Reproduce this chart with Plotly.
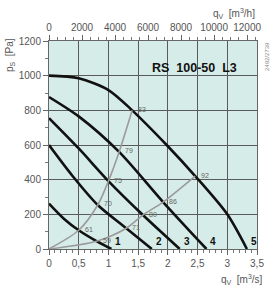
import plotly.graph_objects as go

# ---- data ----
q_tick_vals = [0, 0.5, 1, 1.5, 2, 2.5, 3, 3.5]
q_tick_text = ["0", "0,5", "1", "1,5", "2", "2,5", "3", "3,5"]
qh_tick_vals = [0, 2000, 4000, 6000, 8000, 10000, 12000]
qh_tick_text = ["0", "2000", "4000", "6000", "8000", "10000", "12000"]
p_tick_vals = [0, 200, 400, 600, 800, 1000, 1200]

curve_names = ["1", "2", "3", "4", "5"]
curve_q = [
    [0, 0.25, 0.5, 0.8, 1.05],
    [0, 0.4, 0.82, 1.3, 1.73],
    [0, 0.5, 1.0, 1.58, 2.2],
    [0, 0.5, 1.18, 1.92, 2.65],
    [0, 0.5, 1.0, 1.4, 1.98, 2.46, 3.0, 3.33],
]
curve_p = [
    [262, 175, 108, 45, 0],
    [600, 420, 254, 120, 0],
    [755, 580, 392, 196, 0],
    [877, 765, 560, 271, 0],
    [1000, 985, 917, 800, 600, 421, 200, 0],
]

sysA_q = [0, 0.5, 0.82, 1.0, 1.18, 1.4]
sysA_p = [0, 108, 254, 392, 560, 800]
sysA_lab = ["", "61", "70", "75", "79", "83"]
sysB_q = [0, 0.8, 1.3, 1.58, 1.92, 2.46]
sysB_p = [0, 45, 120, 196, 271, 421]
sysB_lab = ["", "59", "71", "80", "86", "92"]

title_text = "RS  100-50  L3"
code_text = "2492/2739"

FONT = "Liberation Sans, Arial, sans-serif"
W, H = 278, 290
L, R, T, B = 49, 21, 41, 41
pw, ph = W - L - R, H - T - B


def px(xp, yp):
    return (xp - L) / pw, (H - B - yp) / ph


fig = go.Figure()

for qs, ps in zip(curve_q, curve_p):
    fig.add_trace(go.Scatter(x=qs, y=ps, mode="lines",
                             line=dict(color="#111111", width=2.6, shape="spline", smoothing=0.8),
                             hoverinfo="skip", showlegend=False))

for qs, ps in ((sysA_q, sysA_p), (sysB_q, sysB_p)):
    fig.add_trace(go.Scatter(x=qs, y=ps, mode="lines",
                             line=dict(color="#9a9a9a", width=1.6, shape="spline", smoothing=0.8),
                             hoverinfo="skip", showlegend=False))

# invisible trace on top axis
fig.add_trace(go.Scatter(x=[0, 12600], y=[0, 0], xaxis="x2", mode="lines",
                         line=dict(width=0), opacity=0, hoverinfo="skip", showlegend=False))

for qs, ps, labs in ((sysA_q, sysA_p, sysA_lab), (sysB_q, sysB_p, sysB_lab)):
    for q, p, t in zip(qs, ps, labs):
        if t:
            fig.add_annotation(x=q, y=p, text=t, showarrow=False, xanchor="left", yanchor="middle",
                               xshift=4, yshift=1, font=dict(size=7, color="#666666", family=FONT))
for name, qs in zip(curve_names, curve_q):
    fig.add_annotation(x=qs[-1], y=0, text="<b>" + name + "</b>", showarrow=False,
                       xanchor="left", yanchor="bottom", xshift=2, yshift=0,
                       font=dict(size=10, color="#111111", family=FONT))

x1, y1 = px(194, 68)
fig.add_annotation(x=x1, y=y1, xref="paper", yref="paper", text="<b>" + title_text + "</b>",
                   showarrow=False, xanchor="center", yanchor="middle",
                   font=dict(size=12.5, color="#111111", family=FONT))
x1, y1 = px(267, 57)
fig.add_annotation(x=x1, y=y1, xref="paper", yref="paper", text=code_text, textangle=-90,
                   xanchor="center", yanchor="middle",
                   showarrow=False, font=dict(size=6, color="#888888", family=FONT))
x1, y1 = px(10, 55)
fig.add_annotation(x=x1, y=y1, xref="paper", yref="paper", text="p<sub>S</sub>  [Pa]", textangle=-90,
                   xanchor="center", yanchor="middle",
                   showarrow=False, font=dict(size=10, color="#555555", family=FONT))
x1, y1 = px(234, 13)
fig.add_annotation(x=x1, y=y1, xref="paper", yref="paper", text="q<sub>V</sub>  [m<sup>3</sup>/h]",
                   xanchor="center", yanchor="middle",
                   showarrow=False, font=dict(size=10, color="#555555", family=FONT))
x1, y1 = px(242, 279)
fig.add_annotation(x=x1, y=y1, xref="paper", yref="paper", text="q<sub>V</sub>  [m<sup>3</sup>/s]",
                   xanchor="center", yanchor="middle",
                   showarrow=False, font=dict(size=10, color="#555555", family=FONT))

tickfont = dict(size=10, color="#555555", family=FONT)
fig.update_layout(
    width=W, height=H,
    margin=dict(l=L, r=R, t=T, b=B, pad=0),
    paper_bgcolor="white",
    plot_bgcolor="#d6ece8",
    xaxis=dict(range=[0, 3.5], tickvals=q_tick_vals, ticktext=q_tick_text, ticks="outside",
               ticklen=5, tickcolor="#666666", tickfont=tickfont, showgrid=True,
               gridcolor="#5a5a5a", gridwidth=1, zeroline=False, showline=True,
               linecolor="#666666", linewidth=1, fixedrange=True,
               minor=dict(dtick=0.1, ticks="outside", ticklen=3, tickcolor="#777777", showgrid=False)),
    xaxis2=dict(range=[0, 12600], overlaying="x", side="top", tickvals=qh_tick_vals,
                ticktext=qh_tick_text,
                ticks="outside", ticklen=5, tickcolor="#666666", tickfont=tickfont,
                showgrid=False, zeroline=False, showline=True, linecolor="#666666", linewidth=1,
                minor=dict(dtick=500, ticks="outside", ticklen=3, tickcolor="#777777", showgrid=False)),
    yaxis=dict(range=[0, 1200], tickvals=p_tick_vals, ticks="outside", ticklen=5,
               tickcolor="#666666", tickfont=tickfont, showgrid=True, gridcolor="#5a5a5a",
               gridwidth=1, zeroline=False, showline=True, linecolor="#666666", linewidth=1,
               mirror=True,
               minor=dict(dtick=100, ticks="outside", ticklen=3, tickcolor="#777777", showgrid=False)),
)

fig.write_html("out.html")
